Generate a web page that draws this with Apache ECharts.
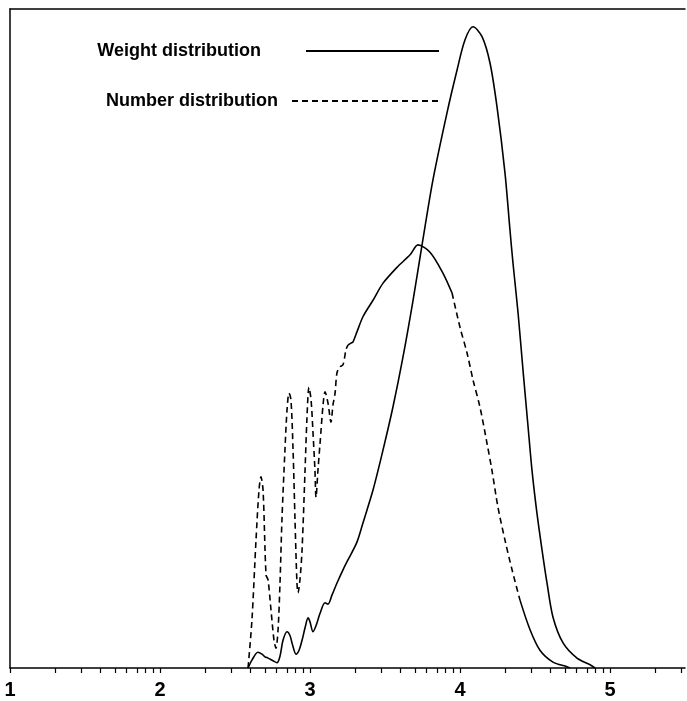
<!DOCTYPE html>
<html>
<head>
<meta charset="utf-8">
<script src="https://cdn.jsdelivr.net/npm/echarts@6/dist/echarts.min.js"></script>
<style>html,body{margin:0;padding:0;background:#fff}#c{width:687px;height:701px}</style>
</head>
<body>
<div id="c"></div>
<script>
// x: log10 of molecular weight; y: relative amount (% of full scale)
var weightX = [2.587, 2.613, 2.653, 2.68, 2.70, 2.72, 2.753, 2.78, 2.80, 2.82, 2.847, 2.867, 2.88, 2.907, 2.927, 2.947, 2.967, 2.987, 3.0, 3.02, 3.04, 3.067, 3.10, 3.12, 3.147, 3.18, 3.22, 3.253, 3.313, 3.353, 3.42, 3.487, 3.553, 3.62, 3.687, 3.747, 3.82, 3.913, 3.98, 4.033, 4.087, 4.147, 4.20, 4.247, 4.30, 4.333, 4.353, 4.387, 4.42, 4.453, 4.48, 4.513, 4.547, 4.58, 4.62, 4.687, 4.78, 4.867, 4.90];
var weightY = [0, 1.2, 2.4, 2.1, 1.7, 1.5, 1.1, 0.8, 1.8, 4.2, 5.5, 4.9, 3.8, 2.1, 2.7, 4.2, 6.1, 7.6, 7.0, 5.5, 6.4, 8.3, 9.9, 9.7, 11.1, 12.9, 14.9, 16.4, 19.1, 22.0, 27.0, 33.1, 39.6, 47.2, 55.8, 64.2, 74.1, 84.2, 90.7, 95.3, 97.3, 95.8, 91.8, 85.1, 75.1, 66.5, 61.5, 53.9, 45.2, 36.8, 30.0, 23.5, 17.9, 12.9, 7.7, 3.8, 1.5, 0.5, 0];

var numberX = [2.587, 2.613, 2.64, 2.66, 2.673, 2.687, 2.707, 2.72, 2.74, 2.76, 2.773, 2.787, 2.80, 2.813, 2.833, 2.847, 2.86, 2.873, 2.887, 2.90, 2.913, 2.92, 2.933, 2.947, 2.967, 2.98, 2.993, 3.007, 3.02, 3.033, 3.04, 3.053, 3.067, 3.087, 3.10, 3.12, 3.14, 3.153, 3.167, 3.18, 3.20, 3.22, 3.24, 3.253, 3.273, 3.287, 3.313, 3.353, 3.42, 3.487, 3.58, 3.667, 3.72, 3.80, 3.887, 3.947, 4.0, 4.047, 4.087, 4.133, 4.18, 4.213, 4.253, 4.30, 4.347, 4.40, 4.467, 4.533, 4.62, 4.713, 4.733];
var numberY = [0, 7.3, 19.4, 27.0, 29.0, 27.0, 14.1, 13.4, 8.8, 4.2, 3.0, 5.8, 12.9, 22.5, 33.1, 39.2, 41.7, 40.7, 33.1, 22.5, 12.9, 11.4, 13.4, 17.9, 30.0, 38.1, 42.6, 40.7, 35.7, 30.0, 25.9, 30.0, 34.1, 39.9, 41.9, 40.2, 37.3, 39.9, 41.7, 44.8, 45.7, 46.0, 48.3, 49.0, 49.3, 49.5, 51.0, 53.3, 55.8, 58.4, 60.8, 62.7, 64.2, 63.1, 59.9, 56.9, 51.7, 47.8, 43.7, 39.6, 34.1, 30.0, 24.4, 19.4, 14.9, 10.3, 5.8, 2.7, 0.9, 0.2, 0];
// pen style of the recorded number trace: [startIndex, endIndex, style]
var numberSegments = [[0, 43, 'dashed'], [43, 55, 'solid'], [55, 65, 'dashed'], [65, 70, 'solid']];

var xLabels = [1, 2, 3, 4, 5];
var xMin = 1, xMax = 5.5;
var seriesNames = ['Weight distribution', 'Number distribution'];

function pairs(xs, ys, a, b) {
  var out = [];
  for (var i = a; i <= b; i++) out.push([xs[i], ys[i]]);
  return out;
}
var tickVals = [];
for (var d = 1; d <= 5; d++) {
  for (var k = 1; k <= 9; k++) {
    var v = d + Math.log10(k);
    if (v <= xMax + 1e-9) tickVals.push(v);
  }
}

var FONT = 'Liberation Sans';
var DASH = [6, 4];
var series = [{
  name: seriesNames[0], type: 'line', symbol: 'none', smooth: 0.3,
  data: pairs(weightX, weightY, 0, weightX.length - 1),
  itemStyle: { color: '#000' },
  lineStyle: { color: '#000', width: 1.6, type: 'solid' }, z: 3
}];
numberSegments.forEach(function (s) {
  series.push({
    name: seriesNames[1], type: 'line', symbol: 'none', smooth: 0.3,
    data: pairs(numberX, numberY, s[0], s[1]),
    itemStyle: { color: '#000' },
    lineStyle: { color: '#000', width: 1.6, type: s[2] === 'dashed' ? DASH : 'solid' }, z: 3
  });
});

var legendCommon = {
  orient: 'vertical', align: 'right', padding: 0, itemHeight: 20, selectedMode: false,
  itemStyle: { opacity: 0, borderWidth: 0 }
};
function mkLegend(name, top, iconWidth, textPadRight) {
  return Object.assign({}, legendCommon, {
    data: [name], right: 247, top: top, itemWidth: iconWidth,
    textStyle: { fontFamily: FONT, fontSize: 18, fontWeight: 'bold', color: '#000', padding: [0, textPadRight, 0, 0] }
  });
}

var chart = echarts.init(document.getElementById('c'), null, { renderer: 'canvas' });
chart.setOption({
  animation: false,
  backgroundColor: '#fff',
  grid: { left: 10, right: 2, top: 9, bottom: 33, containLabel: false },
  legend: [mkLegend(seriesNames[0], 42, 133, 40), mkLegend(seriesNames[1], 92, 147, 9)],
  xAxis: [{
    type: 'value', min: xMin, max: xMax, position: 'bottom',
    axisLine: { show: true, lineStyle: { color: '#000', width: 1.5 } },
    axisTick: { show: true, customValues: tickVals, length: 5, inside: false, lineStyle: { color: '#000', width: 1.2 } },
    axisLabel: { show: true, customValues: xLabels, margin: 12, fontFamily: FONT, fontSize: 20, fontWeight: 'bold', color: '#000' },
    splitLine: { show: false }
  }, {
    type: 'value', min: xMin, max: xMax, position: 'top',
    axisLine: { show: true, onZero: false, lineStyle: { color: '#000', width: 1.5 } },
    axisTick: { show: false }, axisLabel: { show: false }, splitLine: { show: false }
  }],
  yAxis: {
    type: 'value', min: 0, max: 100,
    axisLine: { show: true, lineStyle: { color: '#000', width: 1.5 } },
    axisTick: { show: false }, axisLabel: { show: false }, splitLine: { show: false }
  },
  series: series
});
</script>
</body>
</html>
